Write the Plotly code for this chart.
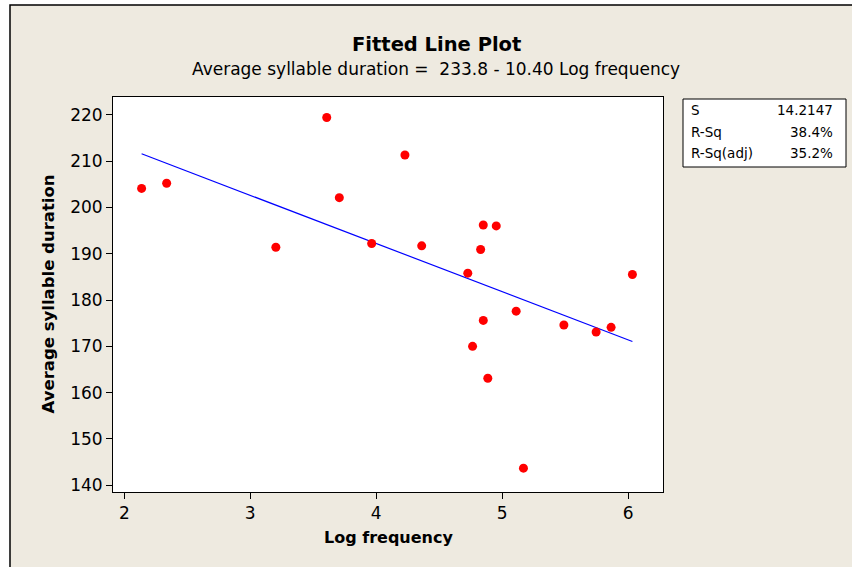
import plotly.graph_objects as go
import numpy as np

# ---- data ----
log_frequency = [2.137, 2.336, 3.203, 3.607, 3.707, 3.964, 4.228, 4.361, 4.850,
                 4.953, 4.829, 4.727, 6.034, 5.111, 4.850, 5.490, 5.746, 5.865,
                 4.765, 4.886, 5.169]
avg_syllable_duration = [204.1, 205.2, 191.4, 219.4, 202.1, 192.2, 211.3, 191.7, 196.2,
                         196.0, 190.9, 185.8, 185.5, 177.6, 175.6, 174.6, 173.1, 174.1,
                         170.0, 163.1, 143.7]
intercept = 233.8
slope = -10.40
stat_labels = ["S", "R-Sq", "R-Sq(adj)"]
stat_values = ["14.2147", "38.4%", "35.2%"]
x_ticks = [2, 3, 4, 5, 6]
y_ticks = [140, 150, 160, 170, 180, 190, 200, 210, 220]

# ---- layout geometry (pixels) ----
W, H = 852, 567
ML, MR, MT, MB = 113, 189, 97, 75
PW, PH = W - ML - MR, H - MT - MB
FONT = "DejaVu Sans"
BG = "#EEEAE0"


def px(x):
    return (x - ML) / PW


def py(y):
    return 1 - (y - MT) / PH


fit_x = np.array([min(log_frequency), max(log_frequency)])
fit_y = intercept + slope * fit_x

fig = go.Figure()
fig.add_trace(go.Scatter(x=fit_x, y=fit_y, mode="lines",
                         line=dict(color="#0000FF", width=1.2),
                         hoverinfo="skip", showlegend=False))
fig.add_trace(go.Scatter(x=log_frequency, y=avg_syllable_duration, mode="markers",
                         marker=dict(color="#FF0000", size=9, line=dict(width=0)),
                         showlegend=False))

shapes = [
    dict(type="rect", xref="paper", yref="paper", layer="below",
         x0=px(10), x1=px(870), y0=py(590), y1=py(5),
         fillcolor=BG, line=dict(color="black", width=1.5)),
    dict(type="rect", xref="paper", yref="paper", layer="below",
         x0=0, x1=1, y0=0, y1=1, fillcolor="white", line=dict(width=0)),
    dict(type="rect", xref="paper", yref="paper",
         x0=px(683), x1=px(846), y0=py(167), y1=py(99),
         fillcolor="white", line=dict(color="black", width=1)),
]

annotations = [
    dict(text="<b>Fitted Line Plot</b>", x=px(436), y=py(45), xref="paper", yref="paper",
         xanchor="center", yanchor="middle", showarrow=False,
         font=dict(family=FONT, size=19.5, color="black")),
    dict(text="Average syllable duration =  233.8 - 10.40 Log frequency",
         x=px(436), y=py(69), xref="paper", yref="paper",
         xanchor="center", yanchor="middle", showarrow=False,
         font=dict(family=FONT, size=17, color="black")),
    dict(text="<b>Log frequency</b>", x=px(388), y=py(537), xref="paper", yref="paper",
         xanchor="center", yanchor="middle", showarrow=False,
         font=dict(family=FONT, size=16, color="black")),
    dict(text="<b>Average syllable duration</b>", x=px(48), y=py(294.5),
         xref="paper", yref="paper", textangle=-90,
         xanchor="center", yanchor="middle", showarrow=False,
         font=dict(family=FONT, size=16.5, color="black")),
]
row_y = [110, 131.5, 153]
for lab, val, ry in zip(stat_labels, stat_values, row_y):
    annotations.append(dict(text=lab, x=px(689), y=py(ry), xref="paper", yref="paper",
                            xanchor="left", yanchor="middle", showarrow=False,
                            font=dict(family=FONT, size=13.5, color="black")))
    annotations.append(dict(text=val, x=px(835), y=py(ry), xref="paper", yref="paper",
                            xanchor="right", yanchor="middle", showarrow=False,
                            font=dict(family=FONT, size=13.5, color="black")))

fig.update_layout(
    width=W, height=H,
    margin=dict(l=ML, r=MR, t=MT, b=MB, pad=0),
    paper_bgcolor="white", plot_bgcolor="white",
    font=dict(family=FONT, size=16, color="black"),
    shapes=shapes, annotations=annotations,
    showlegend=False,
)
fig.update_xaxes(range=[1.910, 6.277], tickvals=x_ticks, ticks="outside", ticklen=6,
                 tickwidth=1, tickcolor="black", showgrid=False, zeroline=False,
                 showline=True, linecolor="black", linewidth=1, mirror=True,
                 tickfont=dict(family=FONT, size=17, color="black"))
fig.update_yaxes(range=[138.55, 223.83], tickvals=y_ticks, ticks="outside", ticklen=6,
                 tickwidth=1, tickcolor="black", showgrid=False, zeroline=False,
                 showline=True, linecolor="black", linewidth=1, mirror=True,
                 tickfont=dict(family=FONT, size=17, color="black"))

fig.write_html("out.html", config={"displayModeBar": False},
               post_script="document.body.style.margin='0px';document.body.style.overflow='hidden';")
